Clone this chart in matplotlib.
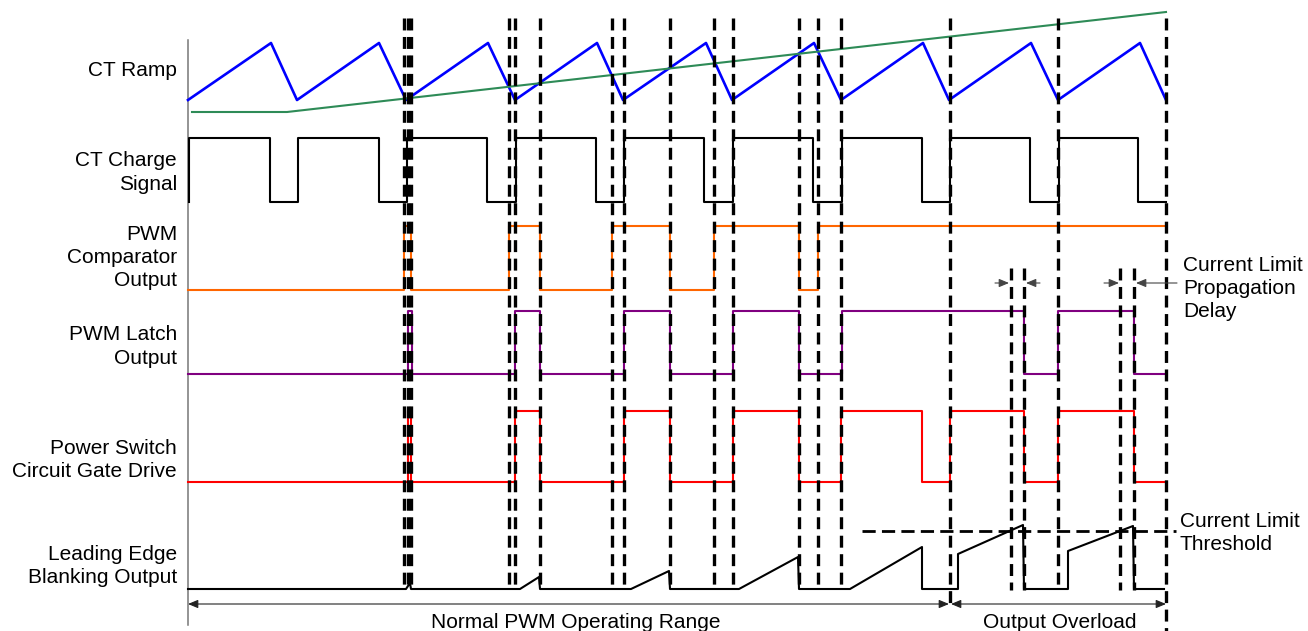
import matplotlib
matplotlib.use("Agg")
import matplotlib.pyplot as plt

plt.rcParams['font.family'] = ['Liberation Sans', 'DejaVu Sans']
plt.rcParams['lines.scale_dashes'] = False

# time axis: horizontal position of events (image units), levels: vertical
ramp_x = [188, 271, 297, 379, 406, 488, 515, 597, 623, 706, 732, 814, 841, 923, 949, 1031, 1058, 1140, 1166]
ramp_lo, ramp_hi = 100, 43

green_x = [192, 287, 1166]
green_y = [112, 112, 12]

charge_edges = [189, 270, 298, 379, 407, 487, 516, 596, 624, 704, 733, 813, 842, 922, 950, 1030, 1059, 1138]
comp_edges = [404, 411, 509, 540, 612, 670, 714, 799, 818]
latch_edges = [408, 412, 515, 540, 624, 670, 733, 799, 842, 1024, 1058, 1134]
gate_edges = [408, 411, 515, 540, 624, 670, 733, 799, 841, 922, 950, 1024, 1058, 1134]

# (low, high) level of each digital trace
charge_lv = (202, 138)
comp_lv = (290, 226)
latch_lv = (374, 311)
gate_lv = (482, 411)

leb_x = [188, 406, 410, 411, 520, 539, 540, 631, 669, 670, 739, 798, 799, 850, 922, 922,
         958, 958, 1023, 1024, 1068, 1068, 1133, 1134, 1164]
leb_y = [589, 589, 583, 589, 589, 577, 589, 589, 571, 589, 589, 557, 589, 589, 547, 589,
         589, 554, 525, 589, 589, 551, 526, 589, 589]

marker_x = [404, 407.5, 411, 508.5, 514.5, 539.5, 611.7, 623.5, 670, 714.3, 732.7,
            799, 817.7, 841, 950, 1058, 1166]
marker_bottom = [590] * 14 + [608, 590, 631]
delay_x = [1010.7, 1024.3, 1120, 1134.3]
threshold_y = 531

labels = ["CT Ramp", "CT Charge\nSignal", "PWM\nComparator\nOutput", "PWM Latch\nOutput",
          "Power Switch\nCircuit Gate Drive", "Leading Edge\nBlanking Output"]
label_base = [76, 189.5, 286, 363.5, 477, 583]  # baseline of last line


def steps(edges, start, end, lv):
    xs, ys = [start], [lv[0]]
    state = 0
    for e in edges:
        xs += [e, e]
        ys += [lv[state], lv[1 - state]]
        state = 1 - state
    xs.append(end)
    ys.append(lv[state])
    return xs, ys


fig = plt.figure(figsize=(13.08, 6.31), dpi=100)
ax = fig.add_axes([0, 0, 1, 1])
ax.set_xlim(0, 1308)
ax.set_ylim(631, 0)
ax.axis("off")

lw = 1.5
ramp_y = [ramp_lo if i % 2 == 0 else ramp_hi for i in range(len(ramp_x))]
ax.plot(ramp_x, ramp_y, color="#0000ff", lw=1.9, zorder=2)
ax.plot(green_x, green_y, color="#2e8b57", lw=1.5, zorder=2)

x, y = steps(charge_edges, 189, 1166, charge_lv)
ax.plot(x, y, color="black", lw=lw, zorder=2)
x, y = steps(comp_edges, 188, 1166, comp_lv)
ax.plot(x, y, color="#ff6600", lw=lw, zorder=2)
x, y = steps(latch_edges, 188, 1166, latch_lv)
ax.plot(x, y, color="#800080", lw=lw, zorder=2)
x, y = steps(gate_edges, 188, 1166, gate_lv)
ax.plot(x, y, color="#ff0000", lw=lw, zorder=2)
ax.plot(leb_x, leb_y, color="black", lw=lw, zorder=2)

# left border
ax.plot([188, 188], [40, 625], color="#777777", lw=1.1, zorder=1)

dash = (8.6, 4.7)
for mx, mb in zip(marker_x, marker_bottom):
    ax.plot([mx, mx], [18, mb], color="black", lw=2.4, dashes=dash, zorder=3)
for dx in delay_x:
    ax.plot([dx, dx], [268, 590], color="black", lw=2.4, dashes=dash, zorder=3)
ax.plot([862, 1176], [threshold_y, threshold_y], color="black", lw=2.0, dashes=(9.5, 4.5), zorder=3)

# range arrows
astyle = "<|-|>,head_length=0.6,head_width=0.25"
ax.annotate("", xy=(188, 604), xytext=(949, 604),
            arrowprops=dict(arrowstyle=astyle, color="#222222", lw=0.8, shrinkA=0, shrinkB=0,
                            mutation_scale=10))
ax.annotate("", xy=(951, 604), xytext=(1166, 604),
            arrowprops=dict(arrowstyle=astyle, color="#222222", lw=0.8, shrinkA=0, shrinkB=0,
                            mutation_scale=10))

# propagation delay arrows
one = "-|>,head_length=0.6,head_width=0.25"
for tail, head in [(995, 1009), (1040, 1026), (1104, 1119), (1177, 1136)]:
    ax.annotate("", xy=(head, 283), xytext=(tail, 283),
                arrowprops=dict(arrowstyle=one, color="#444444", lw=0.8, shrinkA=0, shrinkB=0,
                                mutation_scale=10))

fs = 15
ls = 1.27
for txt, yb in zip(labels, label_base):
    ax.text(177, yb, txt, ha="right", va="baseline", multialignment="right",
            fontsize=fs, linespacing=ls)

ax.text(1183, 317, "Current Limit\nPropagation\nDelay", ha="left", va="baseline",
        fontsize=fs, linespacing=ls)
ax.text(1180, 550, "Current Limit\nThreshold", ha="left", va="baseline",
        fontsize=fs, linespacing=ls)
ax.text(576, 628, "Normal PWM Operating Range", ha="center", va="baseline", fontsize=fs)
ax.text(1060, 628, "Output Overload", ha="center", va="baseline", fontsize=fs)

fig.savefig("out.png", dpi=100)
